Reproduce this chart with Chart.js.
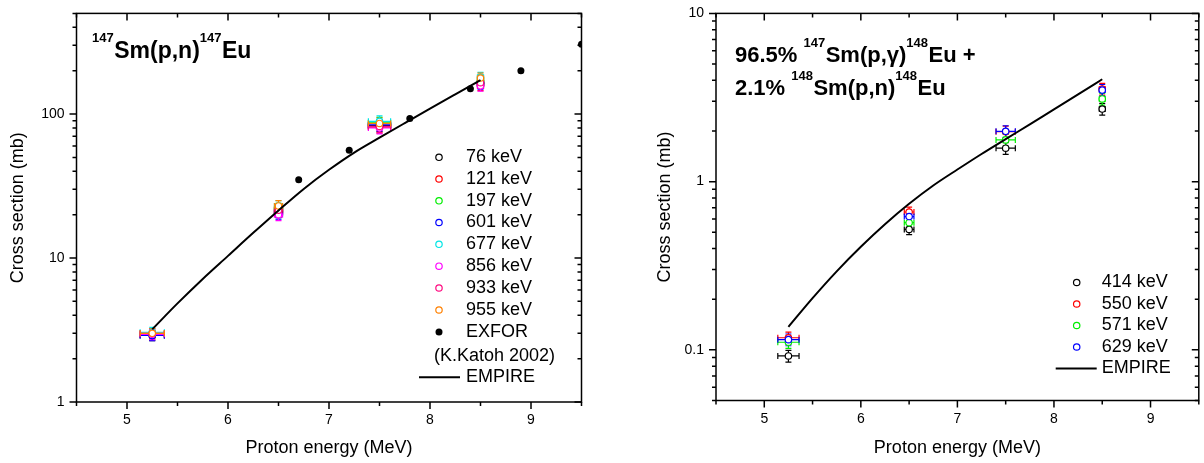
<!DOCTYPE html>
<html><head><meta charset="utf-8">
<script src="https://cdn.jsdelivr.net/npm/chart.js@4/dist/chart.umd.min.js"></script>
<style>
html,body{margin:0;padding:0;background:#fff;}
#w1{position:absolute;left:0;top:0;width:640px;height:463px;}
#w2{position:absolute;left:640px;top:0;width:564px;height:463px;}
</style></head><body>
<div id="w1"><canvas id="c1" width="640" height="463"></canvas></div>
<div id="w2"><canvas id="c2" width="564" height="463"></canvas></div>
<script>
// ---------------- data ----------------
const energyTicks = [5, 6, 7, 8, 9];
const energyMinorTicks = [4.5, 5.5, 6.5, 7.5, 8.5, 9.5];
const leftYTicks = [1, 10, 100];
const rightYTicks = [0.1, 1, 10];

// left panel: 147Sm(p,n)147Eu
const leftEnergies = [5.25, 6.5, 7.5, 8.5];
const leftEnergyErr = [0.12, 0.04, 0.11, 0.03];
const leftRelErr = [0.08, 0.09, 0.09, 0.08];
const leftLabels = ['76 keV', '121 keV', '197 keV', '601 keV', '677 keV', '856 keV', '933 keV', '955 keV'];
const left76 = [2.9, 21.0, 83, 165];
const left121 = [2.95, 21.5, 81, 158];
const left197 = [3.0, 22.0, 87, 170];
const left601 = [2.9, 20.5, 84, 162];
const left677 = [3.05, 23.0, 89, 180];
const left856 = [2.95, 20.0, 80, 157];
const left933 = [3.0, 21.5, 82, 165];
const left955 = [3.0, 23.0, 86, 178];
const exforLabel = 'EXFOR';
const exforNote = '(K.Katoh 2002)';
const exforEnergy = [6.7, 7.2, 7.8, 8.4, 8.9, 9.5];
const exforXs = [35, 56, 93, 150, 200, 305];
const empireLabel = 'EMPIRE';
const empireLeftEnergy = [5.25, 5.5, 5.75, 6.0, 6.25, 6.5, 6.75, 7.0, 7.25, 7.5, 7.75, 8.0, 8.25, 8.5];
const empireLeftXs = [3.2, 4.84, 7.16, 10.35, 14.96, 21.4, 30.2, 41, 54, 68.5, 86.5, 109, 137, 172];

// right panel: 147Sm(p,g)148Eu + 148Sm(p,n)148Eu
const rightEnergies = [5.25, 6.5, 7.5, 8.5];
const rightEnergyErr = [0.11, 0.05, 0.1, 0.03];
const rightRelErr = [0.08, 0.07, 0.08, 0.08];
const rightLabels = ['414 keV', '550 keV', '571 keV', '629 keV'];
const right414 = [0.092, 0.52, 1.58, 2.7];
const right550 = [0.118, 0.66, 1.98, 3.55];
const right571 = [0.111, 0.57, 1.77, 3.1];
const right629 = [0.115, 0.62, 1.99, 3.5];
const empireRightEnergy = [5.25, 5.5, 5.75, 6.0, 6.25, 6.5, 6.75, 7.0, 7.25, 7.5, 7.75, 8.0, 8.25, 8.5];
const empireRightXs = [0.137, 0.203, 0.293, 0.41, 0.558, 0.738, 0.948, 1.18, 1.46, 1.79, 2.19, 2.69, 3.3, 4.06];

// ---------------- styles ----------------
const FONT = "'Liberation Sans', Arial, Helvetica, sans-serif";
const leftColors = ['#000000', '#ff0000', '#00ee00', '#0000ff', '#00e5e5', '#ff00ff', '#ff0a80', '#ff8000'];
const rightColors = ['#000000', '#ff0000', '#00ee00', '#0000ff'];

function logMinor(min, max) {
  const out = [];
  for (let d = Math.floor(Math.log10(min)); d <= Math.ceil(Math.log10(max)); d++) {
    for (let k = 2; k <= 9; k++) {
      const v = Number((k * Math.pow(10, d)).toPrecision(6));
      if (v >= min - 1e-9 && v <= max + 1e-9) out.push(v);
    }
  }
  return out;
}

function pts(xs, ys) { return xs.map((x, i) => ({x: x, y: ys[i]})); }

function seriesDataset(label, color, energies, values, eErr, rel, order) {
  return {
    label: label,
    data: pts(energies, values),
    errX: eErr,
    errY: values.map((v, i) => v * rel[i]),
    borderColor: color,
    backgroundColor: '#ffffff',
    pointBackgroundColor: '#ffffff',
    pointBorderColor: color,
    pointRadius: 3.2,
    pointBorderWidth: 1.2,
    pointStyle: 'circle',
    showLine: false,
    order: order
  };
}

const errorBarPlugin = {
  id: 'errBars',
  beforeDatasetsDraw(chart) {
    const ctx = chart.ctx, xs = chart.scales.x, ys = chart.scales.y;
    ctx.save();
    ctx.lineWidth = 1.2;
    chart.data.datasets.forEach(ds => {
      if (!ds.errY) return;
      ctx.strokeStyle = ds.borderColor;
      ds.data.forEach((p, j) => {
        const px = xs.getPixelForValue(p.x), py = ys.getPixelForValue(p.y);
        const yt = ys.getPixelForValue(p.y + ds.errY[j]);
        const yb = ys.getPixelForValue(p.y - ds.errY[j]);
        const xl = xs.getPixelForValue(p.x - ds.errX[j]);
        const xr = xs.getPixelForValue(p.x + ds.errX[j]);
        const c = 3;
        ctx.beginPath();
        ctx.moveTo(px, yt); ctx.lineTo(px, yb);
        ctx.moveTo(px - c, yt); ctx.lineTo(px + c, yt);
        ctx.moveTo(px - c, yb); ctx.lineTo(px + c, yb);
        ctx.moveTo(xl, py); ctx.lineTo(xr, py);
        ctx.moveTo(xl, py - c); ctx.lineTo(xl, py + c);
        ctx.moveTo(xr, py - c); ctx.lineTo(xr, py + c);
        ctx.stroke();
      });
    });
    ctx.restore();
  }
};

const framePlugin = {
  id: 'frameTicks',
  afterDatasetsDraw(chart, args, o) {
    const ctx = chart.ctx, a = chart.chartArea, xs = chart.scales.x, ys = chart.scales.y;
    const MAJ = 7, MIN = 4;
    ctx.save();
    ctx.strokeStyle = '#000';
    ctx.lineWidth = 1.5;
    ctx.beginPath();
    o.xMajor.forEach(v => { const p = xs.getPixelForValue(v);
      ctx.moveTo(p, a.bottom); ctx.lineTo(p, a.bottom + MAJ);
      ctx.moveTo(p, a.top); ctx.lineTo(p, a.top + MAJ); });
    o.xMinor.forEach(v => { const p = xs.getPixelForValue(v);
      ctx.moveTo(p, a.bottom); ctx.lineTo(p, a.bottom + MIN);
      ctx.moveTo(p, a.top); ctx.lineTo(p, a.top + MIN); });
    o.yMajor.forEach(v => { const p = ys.getPixelForValue(v);
      ctx.moveTo(a.left, p); ctx.lineTo(a.left - MAJ, p);
      ctx.moveTo(a.right, p); ctx.lineTo(a.right - MAJ, p); });
    o.yMinor.forEach(v => { const p = ys.getPixelForValue(v);
      ctx.moveTo(a.left, p); ctx.lineTo(a.left - MIN, p);
      ctx.moveTo(a.right, p); ctx.lineTo(a.right - MIN, p); });
    ctx.stroke();
    ctx.strokeRect(a.left, a.top, a.right - a.left, a.bottom - a.top);
    ctx.restore();
  }
};

const keyPlugin = {
  id: 'keyBox',
  afterDraw(chart, args, o) {
    const ctx = chart.ctx;
    ctx.save();
    ctx.font = '18px ' + FONT;
    ctx.textBaseline = 'middle';
    ctx.textAlign = 'left';
    o.items.forEach((it, i) => {
      const y = o.rows[i];
      if (it.kind === 'open') {
        ctx.beginPath(); ctx.arc(o.symX, y, 3.2, 0, Math.PI * 2);
        ctx.fillStyle = '#fff'; ctx.fill();
        ctx.lineWidth = 1.2; ctx.strokeStyle = it.color; ctx.stroke();
      } else if (it.kind === 'dot') {
        ctx.beginPath(); ctx.arc(o.symX, y, 3.5, 0, Math.PI * 2);
        ctx.fillStyle = '#000'; ctx.fill();
      } else if (it.kind === 'line') {
        ctx.beginPath(); ctx.moveTo(o.lineX0, y); ctx.lineTo(o.lineX1, y);
        ctx.lineWidth = 2; ctx.strokeStyle = '#000'; ctx.stroke();
      }
      ctx.fillStyle = '#000';
      ctx.fillText(it.label, it.kind === 'note' ? o.noteX : o.textX, y);
    });
    ctx.restore();
  }
};

const titlePlugin = {
  id: 'richTitle',
  afterDraw(chart, args, o) {
    const ctx = chart.ctx;
    ctx.save();
    ctx.fillStyle = '#000';
    ctx.textBaseline = 'alphabetic';
    ctx.textAlign = 'left';
    o.lines.forEach((line, li) => {
      let x = o.x;
      const base = o.baselines[li];
      line.forEach(seg => {
        const size = seg.sup ? o.supSize : o.size;
        ctx.font = 'bold ' + size + 'px ' + FONT;
        ctx.fillText(seg.t, x, seg.sup ? base - o.supRaise : base);
        x += ctx.measureText(seg.t).width + (seg.sup ? 0.5 : 0);
      });
    });
    ctx.restore();
  }
};

function axes(yMin, yMax, yTicks, areaBottom, canvasH, yAxisW, yTitlePad) {
  return {
    x: {
      type: 'linear', min: 4.5, max: 9.5,
      afterBuildTicks: s => { s.ticks = energyTicks.map(v => ({value: v})); },
      afterFit: s => { s.height = canvasH - areaBottom; },
      grid: {display: false, drawTicks: true, tickLength: 7},
      border: {display: false},
      ticks: {color: '#000', font: {family: FONT, size: 14}, padding: 3, maxRotation: 0, autoSkip: false},
      title: {display: true, text: 'Proton energy (MeV)', color: '#000', font: {family: FONT, size: 18}, padding: {top: 0, bottom: 4}}
    },
    y: {
      type: 'logarithmic', min: yMin, max: yMax,
      afterBuildTicks: s => { s.ticks = yTicks.map(v => ({value: v})); },
      afterFit: s => { s.width = yAxisW; },
      grid: {display: false, drawTicks: true, tickLength: 7},
      border: {display: false},
      ticks: {color: '#000', font: {family: FONT, size: 14}, padding: 5, autoSkip: false, callback: v => String(v)},
      title: {display: true, text: 'Cross section (mb)', color: '#000', font: {family: FONT, size: 18}, padding: {top: yTitlePad, bottom: 0}}
    }
  };
}

// ---------------- left chart ----------------
const leftSeries = [left76, left121, left197, left601, left677, left856, left933, left955];
const leftDatasets = leftSeries.map((vals, i) =>
  seriesDataset(leftLabels[i], leftColors[i], leftEnergies, vals, leftEnergyErr, leftRelErr, 20 - i));
leftDatasets.push({
  label: exforLabel, data: pts(exforEnergy, exforXs), showLine: false,
  pointRadius: 3.5, pointBackgroundColor: '#000', pointBorderColor: '#000', pointBorderWidth: 0,
  borderColor: '#000', backgroundColor: '#000', order: 30,
  clip: {left: 0, top: 0, right: 0, bottom: 0}
});
leftDatasets.push({
  label: empireLabel, data: pts(empireLeftEnergy, empireLeftXs), showLine: true,
  borderColor: '#000', borderWidth: 2, pointRadius: 0, cubicInterpolationMode: 'monotone', fill: false, order: 1
});

const leftKeyItems = leftLabels.map((l, i) => ({label: l, kind: 'open', color: leftColors[i]}))
  .concat([{label: exforLabel, kind: 'dot'}, {label: exforNote, kind: 'note'}, {label: empireLabel, kind: 'line'}]);

new Chart(document.getElementById('c1'), {
  type: 'scatter',
  data: {datasets: leftDatasets},
  options: {
    responsive: false, animation: false, devicePixelRatio: 1, events: [],
    layout: {padding: {top: 10, right: 58.5, bottom: 0, left: 0}},
    scales: axes(1, 500, leftYTicks, 402, 463, 76.5, 7),
    plugins: {
      legend: {display: false}, tooltip: {enabled: false},
      frameTicks: {xMajor: energyTicks, xMinor: energyMinorTicks, yMajor: leftYTicks, yMinor: logMinor(1, 500)},
      keyBox: {items: leftKeyItems, rows: [157.3, 179, 200.8, 222.5, 244.3, 266.2, 288, 310, 332, 356, 377.3],
               symX: 439, textX: 466, noteX: 434, lineX0: 419, lineX1: 460},
      richTitle: {x: 92, baselines: [58], size: 23, supSize: 13, supRaise: 16,
                  lines: [[{t: '147', sup: true}, {t: 'Sm(p,n)'}, {t: '147', sup: true}, {t: 'Eu'}]]}
    }
  },
  plugins: [errorBarPlugin, framePlugin, keyPlugin, titlePlugin]
});

// ---------------- right chart ----------------
const rightSeries = [right414, right550, right571, right629];
const rightDatasets = rightSeries.map((vals, i) =>
  seriesDataset(rightLabels[i], rightColors[i], rightEnergies, vals, rightEnergyErr, rightRelErr, 20 - i));
rightDatasets.push({
  label: empireLabel, data: pts(empireRightEnergy, empireRightXs), showLine: true,
  borderColor: '#000', borderWidth: 2, pointRadius: 0, cubicInterpolationMode: 'monotone', fill: false, order: 1
});
const rightKeyItems = rightLabels.map((l, i) => ({label: l, kind: 'open', color: rightColors[i]}))
  .concat([{label: empireLabel, kind: 'line'}]);

new Chart(document.getElementById('c2'), {
  type: 'scatter',
  data: {datasets: rightDatasets},
  options: {
    responsive: false, animation: false, devicePixelRatio: 1, events: [],
    layout: {padding: {top: 9, right: 2, bottom: 0, left: 0}},
    scales: axes(0.05, 10, rightYTicks, 400.5, 463, 76, 14),
    plugins: {
      legend: {display: false}, tooltip: {enabled: false},
      frameTicks: {xMajor: energyTicks, xMinor: energyMinorTicks, yMajor: rightYTicks, yMinor: logMinor(0.05, 10)},
      keyBox: {items: rightKeyItems, rows: [282.5, 304, 325.5, 347, 368.5],
               symX: 436.7, textX: 461.7, noteX: 436, lineX0: 415.7, lineX1: 456.7},
      richTitle: {x: 95, baselines: [62, 95], size: 22, supSize: 13, supRaise: 15,
                  lines: [[{t: '96.5% '}, {t: '147', sup: true}, {t: 'Sm(p,\u03b3)'}, {t: '148', sup: true}, {t: 'Eu +'}],
                          [{t: '2.1% '}, {t: '148', sup: true}, {t: 'Sm(p,n)'}, {t: '148', sup: true}, {t: 'Eu'}]]}
    }
  },
  plugins: [errorBarPlugin, framePlugin, keyPlugin, titlePlugin]
});
</script>
</body></html>
